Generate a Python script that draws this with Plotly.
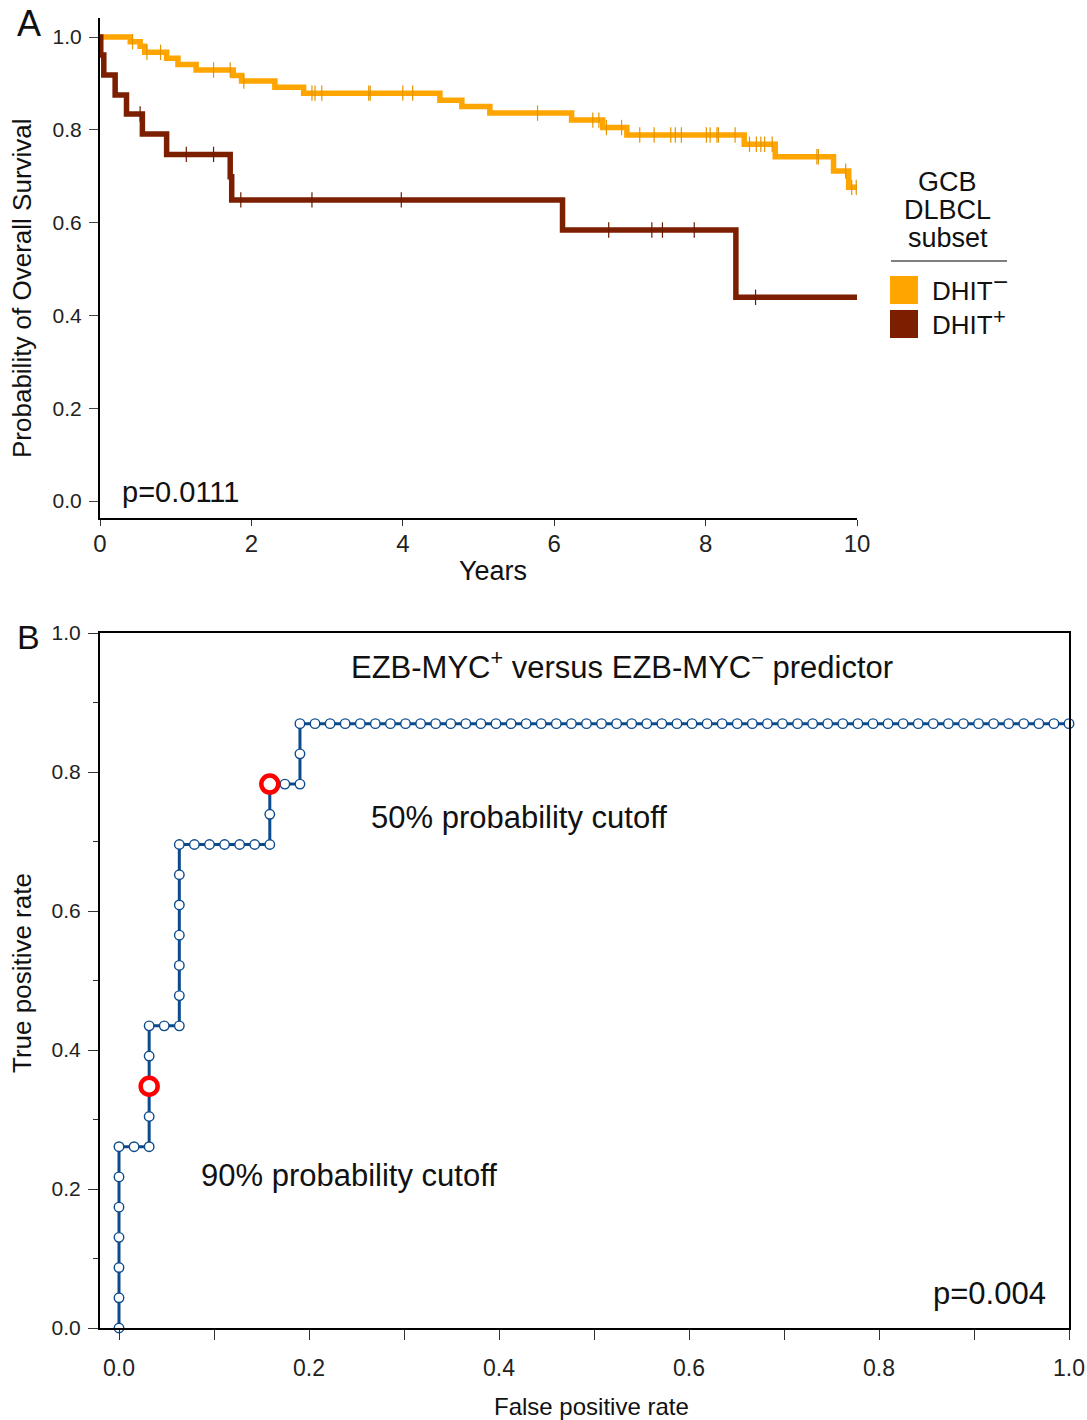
import plotly.graph_objects as go
import numpy as np

W, H = 1087, 1420
FONT = "Liberation Sans, Arial, sans-serif"

# ---------------- Panel A: Kaplan-Meier data ----------------
dhit_neg_times = [0, 0.40, 0.53, 0.59, 0.88, 1.03, 1.27, 1.76, 1.87, 2.31, 2.69,
                  4.49, 4.78, 5.15, 6.23, 6.64, 6.96, 8.51, 8.92, 9.69, 9.89, 10.0]
dhit_neg_surv = [1.0, 0.990, 0.980, 0.967, 0.954, 0.941, 0.929, 0.917, 0.905, 0.892, 0.879,
                 0.864, 0.850, 0.836, 0.821, 0.805, 0.789, 0.769, 0.742, 0.711, 0.676, 0.676]
dhit_neg_censor = [0.43, 0.62, 0.80, 1.50, 1.72, 1.90, 2.80, 2.84, 2.93, 3.55, 3.57, 4.00,
                   4.13, 5.78, 6.51, 6.59, 6.69, 6.89, 7.13, 7.32, 7.54, 7.60, 7.68, 8.01,
                   8.06, 8.15, 8.17, 8.39, 8.58, 8.67, 8.73, 8.78, 8.88, 9.47, 9.49, 9.85,
                   9.93, 9.99]

dhit_pos_times = [0, 0.01, 0.05, 0.20, 0.35, 0.56, 0.88, 1.72, 1.74, 6.11, 8.40, 10.0]
dhit_pos_surv = [1.0, 0.961, 0.918, 0.875, 0.834, 0.791, 0.747, 0.699, 0.649, 0.584, 0.439, 0.439]
dhit_pos_censor = [0.53, 1.14, 1.50, 1.86, 2.80, 3.98, 6.72, 7.29, 7.43, 7.85, 8.66]

km_yticks = [0.0, 0.2, 0.4, 0.6, 0.8, 1.0]
km_xticks = [0, 2, 4, 6, 8, 10]

# ---------------- Panel B: ROC data ----------------
n_neg = 63
n_pos = 23
roc_fp = [0, 0, 0, 0, 0, 0, 0,
          1, 2,
          2, 2, 2, 2,
          3, 4,
          4, 4, 4, 4, 4, 4,
          5, 6, 7, 8, 9, 10,
          10, 10,
          11, 12,
          12, 12,
          13, 14, 15, 16, 17, 18, 19, 20, 21, 22, 23, 24, 25, 26, 27, 28, 29, 30,
          31, 32, 33, 34, 35, 36, 37, 38, 39, 40, 41, 42, 43, 44, 45, 46, 47, 48,
          49, 50, 51, 52, 53, 54, 55, 56, 57, 58, 59, 60, 61, 62, 63]
roc_tp = [0, 1, 2, 3, 4, 5, 6,
          6, 6,
          7, 8, 9, 10,
          10, 10,
          11, 12, 13, 14, 15, 16,
          16, 16, 16, 16, 16, 16,
          17, 18,
          18, 18,
          19, 20,
          20, 20, 20, 20, 20, 20, 20, 20, 20, 20, 20, 20, 20, 20, 20, 20, 20, 20,
          20, 20, 20, 20, 20, 20, 20, 20, 20, 20, 20, 20, 20, 20, 20, 20, 20, 20,
          20, 20, 20, 20, 20, 20, 20, 20, 20, 20, 20, 20, 20, 20, 20]
cutoff_fp = [2, 10]
cutoff_tp = [8, 18]
roc_major_ticks = [0.0, 0.2, 0.4, 0.6, 0.8, 1.0]
roc_minor_ticks = [0.1, 0.3, 0.5, 0.7, 0.9]

ORANGE = "#FFA500"
BROWN = "#7B1F00"
BLUE = "#0B4A8C"


def px(x):
    return x / W


def py(y):
    return 1 - y / H


def step_value(times, surv, t):
    idx = np.searchsorted(np.array(times), t, side="right") - 1
    return surv[idx]


fig = go.Figure()

# KM curves
fig.add_trace(go.Scatter(x=dhit_neg_times, y=dhit_neg_surv, mode="lines",
                         line=dict(color=ORANGE, width=5.5, shape="hv"),
                         xaxis="x", yaxis="y", showlegend=False, cliponaxis=False))
fig.add_trace(go.Scatter(x=dhit_pos_times, y=dhit_pos_surv, mode="lines",
                         line=dict(color=BROWN, width=5.5, shape="hv"),
                         xaxis="x", yaxis="y", showlegend=False, cliponaxis=False))
fig.add_trace(go.Scatter(x=dhit_neg_censor,
                         y=[step_value(dhit_neg_times, dhit_neg_surv, t) for t in dhit_neg_censor],
                         mode="markers",
                         marker=dict(symbol="line-ns", size=11, line=dict(color="#E39400", width=1.2)),
                         xaxis="x", yaxis="y", showlegend=False, cliponaxis=False))
fig.add_trace(go.Scatter(x=dhit_pos_censor,
                         y=[step_value(dhit_pos_times, dhit_pos_surv, t) for t in dhit_pos_censor],
                         mode="markers",
                         marker=dict(symbol="line-ns", size=11, line=dict(color="#6A1A00", width=1.2)),
                         xaxis="x", yaxis="y", showlegend=False, cliponaxis=False))

# ROC curve
fpr = [f / n_neg for f in roc_fp]
tpr = [t / n_pos for t in roc_tp]
fig.add_trace(go.Scatter(x=fpr, y=tpr, mode="lines+markers",
                         line=dict(color=BLUE, width=3),
                         marker=dict(size=9.5, color="white", line=dict(color=BLUE, width=1.4)),
                         xaxis="x2", yaxis="y2", showlegend=False, cliponaxis=False))
fig.add_trace(go.Scatter(x=[f / n_neg for f in cutoff_fp], y=[t / n_pos for t in cutoff_tp],
                         mode="markers",
                         marker=dict(size=17, color="white", line=dict(color="#FF0000", width=4.5)),
                         xaxis="x2", yaxis="y2", showlegend=False, cliponaxis=False))

fig.update_layout(
    width=W, height=H,
    margin=dict(l=0, r=0, t=0, b=0, pad=0),
    autosize=False,
    paper_bgcolor="white", plot_bgcolor="white",
    font=dict(family=FONT, color="#111111"),
    xaxis=dict(domain=[px(100), px(857)], range=[0, 10], anchor="y", automargin=False,
               showline=True, linecolor="black", linewidth=2,
               ticks="outside", ticklen=6, tickcolor="#333333", tickwidth=1.2,
               tickvals=km_xticks, ticktext=[str(v) for v in km_xticks],
               tickfont=dict(family=FONT, size=24, color="#222222"), ticklabelstandoff=-3,
               showgrid=False, zeroline=False),
    yaxis=dict(domain=[py(518), py(18)], range=[-0.0366, 1.041], anchor="x", automargin=False,
               showline=True, linecolor="black", linewidth=2,
               ticks="outside", ticklen=9, tickcolor="#444444", tickwidth=1.2,
               tickvals=km_yticks, ticktext=[f"{v:.1f}" for v in km_yticks],
               tickfont=dict(family=FONT, size=21, color="#222222"), ticklabelstandoff=3,
               showgrid=False, zeroline=False),
    xaxis2=dict(domain=[px(100), px(1069)], range=[-0.02, 1.0], anchor="y2", automargin=False,
                showline=True, mirror=True, linecolor="black", linewidth=2,
                ticks="outside", ticklen=10, tickcolor="#333333", tickwidth=1.2,
                tickvals=roc_major_ticks, ticktext=[f"{v:.1f}" for v in roc_major_ticks],
                minor=dict(ticks="outside", ticklen=10, tickvals=roc_minor_ticks,
                           tickcolor="#333333", tickwidth=1.2),
                tickfont=dict(family=FONT, size=23, color="#222222"), ticklabelstandoff=8,
                showgrid=False, zeroline=False),
    yaxis2=dict(domain=[py(1328), py(633)], range=[0, 1.0], anchor="x2", automargin=False,
                showline=True, mirror=True, linecolor="black", linewidth=2,
                ticks="outside", ticklen=10, tickcolor="#333333", tickwidth=1.2,
                tickvals=roc_major_ticks, ticktext=[f"{v:.1f}" for v in roc_major_ticks],
                minor=dict(ticks="outside", ticklen=5, tickvals=roc_minor_ticks,
                           tickcolor="#333333", tickwidth=1.2),
                tickfont=dict(family=FONT, size=21, color="#222222"), ticklabelstandoff=3,
                showgrid=False, zeroline=False),
)

annotations = []


def ann(text, x, y, size, xanchor="center", yanchor="middle", angle=0, color="#111111"):
    annotations.append(dict(text=text, x=px(x), y=py(y), xref="paper", yref="paper",
                            xanchor=xanchor, yanchor=yanchor, showarrow=False, textangle=angle,
                            font=dict(family=FONT, size=size, color=color)))


ann("A", 29, 24, 36)
ann("B", 28, 637, 34)
ann("Probability of Overall Survival", 22, 288, 26, angle=-90)
ann("Years", 493, 571, 27)
ann("p=0.0111", 120, 492, 29, xanchor="left")
ann("GCB", 948, 182, 27)
ann("DLBCL", 948, 210, 27)
ann("subset", 948, 238, 27)
ann("DHIT", 930, 291, 26, xanchor="left")
ann("DHIT", 930, 325, 26, xanchor="left")
ann("−", 1000, 282, 26)
ann("+", 999, 316, 22)
ann("EZB-MYC<sup>+</sup> versus EZB-MYC<sup>−</sup> predictor", 622, 665, 31)
ann("50% probability cutoff", 369, 817, 31, xanchor="left")
ann("90% probability cutoff", 199, 1175, 31, xanchor="left")
ann("p=0.004", 1048, 1293, 31, xanchor="right")
ann("False positive rate", 591, 1406, 24)
ann("True positive rate", 22, 973, 26, angle=-90)

fig.update_layout(annotations=annotations)

shapes = [
    dict(type="line", xref="paper", yref="paper", x0=px(891), x1=px(1007), y0=py(261), y1=py(261),
         line=dict(color="black", width=1.2)),
    dict(type="rect", xref="paper", yref="paper", x0=px(890), x1=px(918), y0=py(304), y1=py(276),
         fillcolor=ORANGE, line=dict(width=0)),
    dict(type="rect", xref="paper", yref="paper", x0=px(890), x1=px(918), y0=py(338), y1=py(310),
         fillcolor=BROWN, line=dict(width=0)),
]
fig.update_layout(shapes=shapes)

fig.write_html(
    "out.html",
    config={"displayModeBar": False},
    post_script="document.body.style.margin='0px';"
                "document.body.style.overflow='hidden';"
                "document.documentElement.style.overflow='hidden';",
)
